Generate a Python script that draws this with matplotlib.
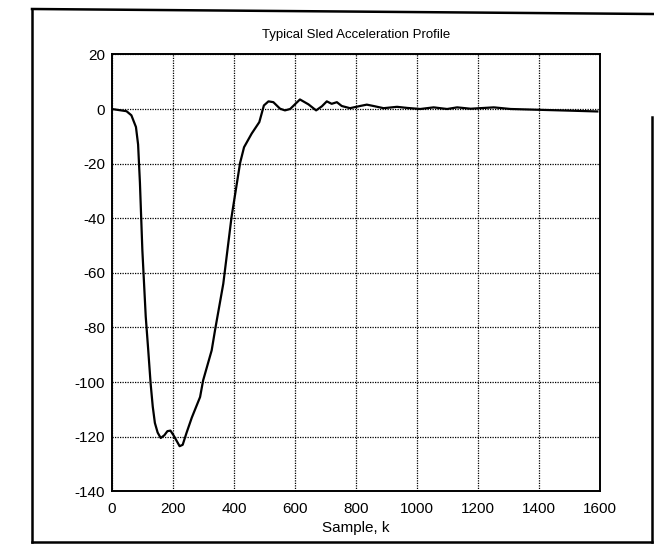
"""
Typical sled acceleration profile (scanned MATLAB-style figure)
"""

import matplotlib
matplotlib.use('Agg')
import matplotlib.pyplot as plt
from matplotlib.lines import Line2D

plt.rcParams['font.family'] = ['Liberation Sans', 'DejaVu Sans']
plt.rcParams['axes.unicode_minus'] = False  # plain hyphen like the original

# ============================================================
# data
# ============================================================
sample_k = [0, 48, 64, 79, 86, 92, 100, 111, 119, 127, 134, 141, 150, 160,
            172, 182, 192, 202, 212, 222, 232, 245, 262, 289, 299, 327, 338,
            365, 392, 420, 433, 458, 483, 498, 513, 529, 551, 567, 584, 616,
            644, 669, 688, 704, 720, 737, 753, 780, 813, 835, 857, 890, 934,
            967, 1010, 1054, 1098, 1131, 1175, 1251, 1306, 1403, 1500, 1590]
accel = [0, -0.8, -2.3, -6.6, -13, -27, -51.8, -76, -88, -100.5, -109, -115,
         -118.5, -120.5, -119.5, -118, -117.8, -119.5, -121.5, -123.5, -123,
         -118.5, -113, -105.5, -99.4, -88.4, -81, -64, -39.6, -19.8, -14, -9,
         -4.8, 1.3, 2.8, 2.5, 0.1, -0.5, 0, 3.5, 1.7, -0.5, 1, 2.8, 1.9, 2.5,
         1.1, 0.3, 1.1, 1.6, 1.1, 0.3, 0.8, 0.4, 0, 0.6, 0, 0.6, 0.1, 0.6, 0,
         -0.3, -0.6, -0.9]

x_ticks = [0, 200, 400, 600, 800, 1000, 1200, 1400, 1600]
y_ticks = [20, 0, -20, -40, -60, -80, -100, -120, -140]

# ============================================================
# figure
# ============================================================
fig = plt.figure(figsize=(6.54, 5.44), dpi=100)
ax = fig.add_axes([0.171, 0.097, 0.747, 0.803])

ax.plot(sample_k, accel, color='black', linewidth=1.6)

ax.set_xlim(0, 1600)
ax.set_ylim(-140, 20)
ax.set_xticks(x_ticks)
ax.set_yticks(y_ticks)
ax.tick_params(direction='in', length=0, labelsize=11)
ax.tick_params(axis='x', pad=8)
ax.tick_params(axis='y', pad=5)
ax.grid(True, color='black', linestyle=(0, (1, 1)), linewidth=0.9)
for s in ax.spines.values():
    s.set_linewidth(1.4)

ax.set_title('Typical Sled Acceleration Profile', fontsize=9.5, pad=12)
ax.set_xlabel('Sample, k', fontsize=11, labelpad=3)

# scanned page frame around the figure
W, H = 654.0, 544.0
frame = [
    ([32 / W, 654 / W], [1 - 9 / H, 1 - 14 / H]),
    ([32 / W, 32 / W], [1 - 9 / H, 1 - 542 / H]),
    ([32 / W, 652 / W], [1 - 542 / H, 1 - 542 / H]),
    ([652 / W, 652 / W], [1 - 117 / H, 1 - 542 / H]),
]
for xs, ys in frame:
    fig.add_artist(Line2D(xs, ys, transform=fig.transFigure, color='black', linewidth=1.8))

plt.savefig('out.png', dpi=100)
